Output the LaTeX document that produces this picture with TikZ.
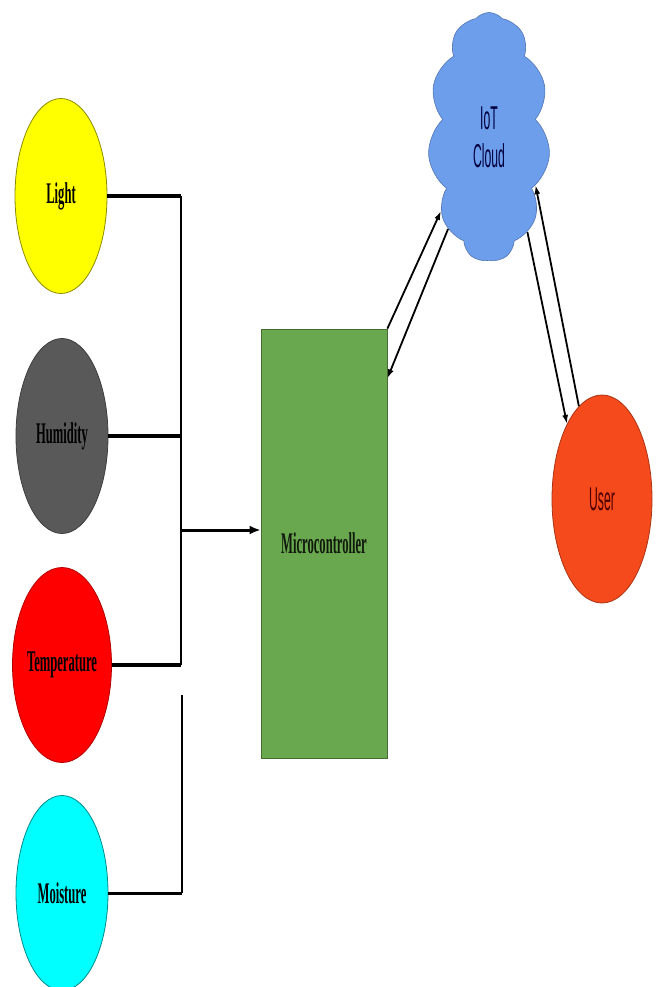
\documentclass[tikz,border=0pt]{standalone}
\usepackage{fontspec}
\setmainfont{Liberation Serif}
\setsansfont{Liberation Sans}
\usepackage{tikz}
\usetikzlibrary{shapes.geometric}
\usetikzlibrary{shapes.symbols}
\usetikzlibrary{arrows.meta}

\definecolor{lightyellow}{RGB}{255,255,0}
\definecolor{humgray}{RGB}{89,89,89}
\definecolor{tempred}{RGB}{255,0,0}
\definecolor{moistcyan}{RGB}{0,255,255}
\definecolor{mcugreen}{RGB}{106,168,79}
\definecolor{cloudblue}{RGB}{109,158,235}
\definecolor{userred}{RGB}{245,74,28}

\newcommand{\narrowtxt}[1]{\scalebox{0.42}[1]{#1}}
\newcommand{\narrowsans}[1]{\scalebox{0.37}[1]{#1}}

\begin{document}
\begin{tikzpicture}[x=1pt, y=-1pt,
    sensor/.style={ellipse, draw, line width=0.8pt, minimum width=92pt, minimum height=195pt, inner sep=0pt, font=\fontsize{30}{32}\selectfont\bfseries},
    wire/.style={line width=4pt},
    bus/.style={line width=1.2pt},
    feed/.style={line width=3pt, -{Latex[length=11pt,width=9pt]}},
    link/.style={line width=1.8pt, -{Latex[length=9pt,width=6pt]}}]

    \useasboundingbox (0,0) rectangle (656,987);
    \fill[white] (0,0) rectangle (656,987);

    % sensors
    \node[sensor, fill=lightyellow, draw=lightyellow!55!black] (light) at (61,196) {\narrowtxt{Light}};
    \node[sensor, fill=humgray, draw=humgray!70!black] (humidity) at (62,436) {\narrowtxt{Humidity}};
    \node[sensor, fill=tempred, draw=tempred!70!black] (temp) at (62,665) {\narrowtxt{Temperature}};
    \node[sensor, fill=moistcyan, draw=moistcyan!55!black] (moisture) at (62,893) {\narrowtxt{Moisture}};

    \node[rectangle, draw=mcugreen!65!black, line width=0.8pt, fill=mcugreen, minimum width=126pt, minimum height=429pt, text=black!85!mcugreen, font=\fontsize{30}{32}\selectfont\bfseries] (mcu) at (324,543.5) {\narrowtxt{Microcontroller}};

    \node[cloud, cloud puffs=11, cloud puff arc=100, aspect=0.5, draw=cloudblue!75!black, line width=0.6pt, fill=cloudblue, minimum width=122pt, minimum height=249pt, inner sep=0pt, align=center, text=black!75!blue, font=\sffamily\fontsize{33}{38}\selectfont] (cloud) at (489,137) {\narrowsans{IoT}\\\narrowsans{Cloud}};

    \node[ellipse, draw=userred!70!black, line width=0.8pt, fill=userred, minimum width=100pt, minimum height=208pt, inner sep=0pt, text=black!70!red, font=\sffamily\fontsize{33}{36}\selectfont] (user) at (602,499) {\narrowsans{User}};

    % bus on the left
    \coordinate (bus1) at (181,196);
    \coordinate (bus2) at (181,436);
    \coordinate (bus3) at (181,665);
    \coordinate (busgap) at (182,695);
    \coordinate (bus4) at (182,893);
    \coordinate (busmid) at (181,530);

    \draw[wire] (light) -- (bus1);
    \draw[wire] (humidity) -- (bus2);
    \draw[wire] (temp) -- (bus3);
    \draw[wire, line width=3pt] (moisture) -- (bus4);
    \draw[bus] (bus1) -- (bus3);
    \draw[bus] (busgap) -- (bus4);
    \draw[feed] (busmid) -- (busmid -| mcu.west);

    % cloud links
    \draw[link] (mcu.north east) -- (cloud.237);
    \draw[link] (cloud.246) -- (mcu.69);
    \draw[link] (cloud.292) -- (user.115);
    \draw[link] (user.104) -- (cloud.314);

\end{tikzpicture}
\end{document}
